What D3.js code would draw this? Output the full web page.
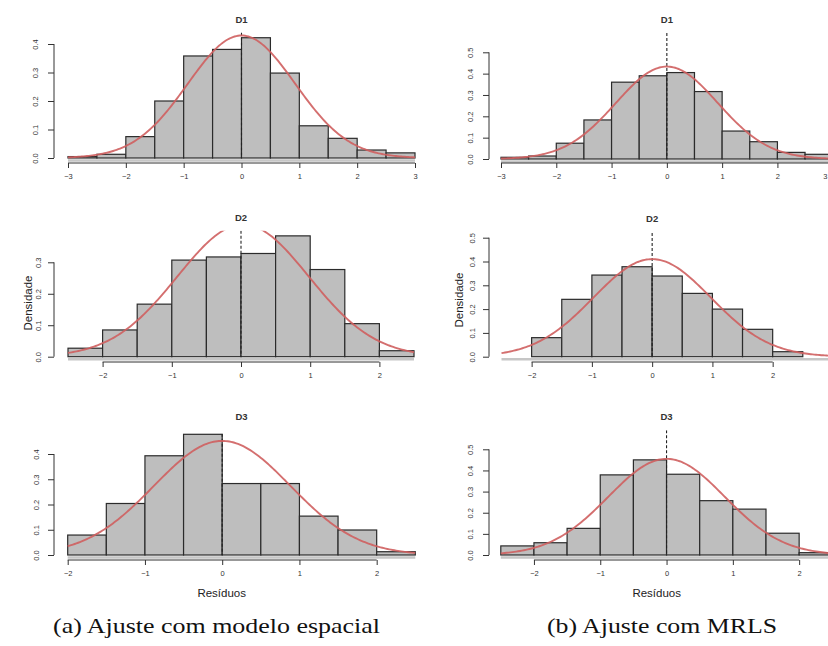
<!DOCTYPE html>
<html>
<head>
<meta charset="utf-8">
<script src="https://cdn.jsdelivr.net/npm/d3@7"></script>
<style>
  html, body { margin: 0; padding: 0; background: #ffffff; }
  svg { display: block; }
</style>
</head>
<body>
<svg id="chart" width="828" height="646"></svg>
<script>
// ---------------- DATA ----------------
// Histogram bin edges (breaks) and densities
const breaksA1 = [-3, -2.5, -2, -1.5, -1, -0.5, 0, 0.5, 1, 1.5, 2, 2.5, 3];
const densA1   = [0.005, 0.013, 0.075, 0.200, 0.358, 0.381, 0.422, 0.298, 0.113, 0.069, 0.028, 0.018];

const breaksB1 = [-3, -2.5, -2, -1.5, -1, -0.5, 0, 0.5, 1, 1.5, 2, 2.5, 3];
const densB1   = [0.008, 0.014, 0.074, 0.183, 0.360, 0.390, 0.405, 0.316, 0.131, 0.081, 0.031, 0.022];

const breaksA2 = [-2.5, -2, -1.5, -1, -0.5, 0, 0.5, 1, 1.5, 2, 2.5];
const densA2   = [0.027, 0.085, 0.167, 0.307, 0.317, 0.328, 0.384, 0.277, 0.105, 0.019];

const breaksB2 = [-2.5, -2, -1.5, -1, -0.5, 0, 0.5, 1, 1.5, 2, 2.5, 3];
const densB2   = [0.0, 0.080, 0.241, 0.343, 0.378, 0.339, 0.266, 0.200, 0.115, 0.021, 0.0];

const breaksA3 = [-2, -1.5, -1, -0.5, 0, 0.5, 1, 1.5, 2, 2.5];
const densA3   = [0.079, 0.204, 0.393, 0.478, 0.283, 0.283, 0.154, 0.099, 0.013];

const breaksB3 = [-2.5, -2, -1.5, -1, -0.5, 0, 0.5, 1, 1.5, 2, 2.5];
const densB3   = [0.043, 0.058, 0.126, 0.379, 0.450, 0.382, 0.257, 0.217, 0.103, 0.011];

// Fitted normal curves: [mean, sd]
const fitA1 = [0.00, 0.928];
const fitB1 = [0.00, 0.921];
const fitA2 = [0.03, 0.950];
const fitB2 = [0.00, 0.973];
const fitA3 = [0.00, 0.883];
const fitB3 = [0.00, 0.877];

// Tick values
const yTicks04 = [0, 0.1, 0.2, 0.3, 0.4];
const yTicks03 = [0, 0.1, 0.2, 0.3];
const yTicks05 = [0, 0.1, 0.2, 0.3, 0.4, 0.5];
const xTicks3  = [-3, -2, -1, 0, 1, 2, 3];
const xTicks2  = [-2, -1, 0, 1, 2];

const titles   = ["D1", "D2", "D3"];
const yLabel   = "Densidade";
const xLabel   = "Resíduos";
const captions = ["(a) Ajuste com modelo espacial", "(b) Ajuste com MRLS"];

// ---------------- LAYOUT ----------------
const panels = [
  { title: titles[0], breaks: breaksA1, dens: densA1, fit: fitA1, yTicks: yTicks04, xTicks: xTicks3,
    xDom: [-3, 3], xPx: [68, 415], yDom: [0, 0.4], yPx: [158, 44], axisXPos: 163, axisYPos: 54,
    yTop: 0.44, curveDom: [-3, 3], titleY: 23, yLabX: 38 },
  { title: titles[0], breaks: breaksB1, dens: densB1, fit: fitB1, yTicks: yTicks05, xTicks: xTicks3,
    xDom: [-3, 3], xPx: [501, 832.7], yDom: [0, 0.5], yPx: [159, 52.3], axisXPos: 163, axisYPos: 489,
    yTop: 0.59, curveDom: [-3, 3.3], titleY: 23, yLabX: 473 },
  { title: titles[1], breaks: breaksA2, dens: densA2, fit: fitA2, yTicks: yTicks03, xTicks: xTicks2,
    xDom: [-2.5, 2.5], xPx: [68, 414], yDom: [0, 0.3], yPx: [356.7, 262.3], axisXPos: 362, axisYPos: 54,
    yTop: 0.40, curveDom: [-2.5, 2.5], titleY: 221, yLabX: 41 },
  { title: titles[1], breaks: breaksB2, dens: densB2, fit: fitB2, yTicks: yTicks05, xTicks: xTicks2,
    xDom: [-2.5, 2.5], xPx: [501.5, 802.8], yDom: [0, 0.5], yPx: [356.7, 237.7], axisXPos: 362, axisYPos: 489,
    yTop: 0.52, curveDom: [-2.5, 3.3], titleY: 222, yLabX: 475 },
  { title: titles[2], breaks: breaksA3, dens: densA3, fit: fitA3, yTicks: yTicks04, xTicks: xTicks2,
    xDom: [-2, 2.5], xPx: [67.7, 415.3], yDom: [0, 0.4], yPx: [555, 454], axisXPos: 560, axisYPos: 54,
    yTop: 0.48, curveDom: [-2, 2.5], titleY: 420, yLabX: 39 },
  { title: titles[2], breaks: breaksB3, dens: densB3, fit: fitB3, yTicks: yTicks05, xTicks: xTicks2,
    xDom: [-2.5, 2.5], xPx: [500.8, 832.3], yDom: [0, 0.5], yPx: [555, 449.3], axisXPos: 560, axisYPos: 489,
    yTop: 0.59, curveDom: [-2.5, 3.3], titleY: 420, yLabX: 473 }
];

const BAR_FILL = "#bebebe";
const BAR_STROKE = "#2b2b2b";
const CURVE = "#cf5f5f";
const AXIS = "#333333";
const W = 828;

const svg = d3.select("#chart");
svg.append("rect").attr("width", 828).attr("height", 646).attr("fill", "#ffffff");

const defs = svg.append("defs");
const dnorm = (x, m, s) => Math.exp(-0.5 * ((x - m) / s) ** 2) / (s * Math.sqrt(2 * Math.PI));

panels.forEach((p, i) => {
  const x = d3.scaleLinear().domain(p.xDom).range(p.xPx);
  const y = d3.scaleLinear().domain(p.yDom).range(p.yPx);
  const g = svg.append("g");

  // plot region clip (top at the region's upper limit)
  const span = p.xDom[1] - p.xDom[0];
  const cx0 = x(p.xDom[0] - 0.04 * span), cx1 = x(p.xDom[1] + 0.04 * span) + 40;
  const cy0 = y(p.yTop), cy1 = y(0) + 4;
  defs.append("clipPath").attr("id", "clip" + i)
    .append("rect").attr("x", cx0).attr("y", cy0).attr("width", cx1 - cx0).attr("height", cy1 - cy0);

  // faint band under the bars
  g.append("line")
    .attr("x1", x(p.breaks[0])).attr("x2", x(p.breaks[p.breaks.length - 1]))
    .attr("y1", y(0) + 2.5).attr("y2", y(0) + 2.5)
    .attr("stroke", "#c6c6c6").attr("stroke-width", 2.5);

  // bars
  const bins = p.dens.map((d, k) => ({ x0: p.breaks[k], x1: p.breaks[k + 1], d }));
  g.append("g").selectAll("rect").data(bins).join("rect")
    .attr("x", b => x(b.x0))
    .attr("y", b => y(b.d))
    .attr("width", b => x(b.x1) - x(b.x0))
    .attr("height", b => y(0) - y(b.d))
    .attr("fill", BAR_FILL)
    .attr("stroke", BAR_STROKE)
    .attr("stroke-width", 1.2);

  const clipped = g.append("g").attr("clip-path", `url(#clip${i})`);

  // vertical dashed reference line at 0
  clipped.append("line")
    .attr("x1", x(0)).attr("x2", x(0))
    .attr("y1", y(p.yTop)).attr("y2", y(0))
    .attr("stroke", "#222").attr("stroke-width", 1.1)
    .attr("stroke-dasharray", "3,2");

  // normal curve
  const xs = d3.range(0, 201).map(k => p.curveDom[0] + (p.curveDom[1] - p.curveDom[0]) * k / 200);
  const line = d3.line().x(v => x(v)).y(v => y(dnorm(v, p.fit[0], p.fit[1])));
  clipped.append("path").datum(xs)
    .attr("d", line)
    .attr("fill", "none")
    .attr("stroke", CURVE)
    .attr("stroke-width", 1.9)
    .attr("stroke-opacity", 0.9);

  // x axis
  const xa = g.append("g").attr("transform", `translate(0,${p.axisXPos})`)
    .call(d3.axisBottom(x).tickValues(p.xTicks).tickSize(5).tickSizeOuter(0).tickFormat(d3.format("d")));
  xa.select(".domain").attr("stroke", AXIS)
    .attr("d", `M${x(p.xTicks[0])},0H${x(p.xTicks[p.xTicks.length - 1])}`);
  xa.selectAll(".tick line").attr("stroke", AXIS);
  xa.selectAll(".tick text").attr("y", 11).attr("font-size", 7.5)
    .attr("font-family", "Liberation Sans, Arial, sans-serif").attr("fill", "#333");
  // labels whose tick sits at/after the right edge: keep inside the picture
  xa.selectAll(".tick text").filter(d => x(d) > W - 4)
    .attr("text-anchor", "end").attr("x", d => (W - 1) - x(d));

  // y axis
  const ya = g.append("g").attr("transform", `translate(${p.axisYPos},0)`)
    .call(d3.axisLeft(y).tickValues(p.yTicks).tickSize(6).tickSizeOuter(0).tickFormat(d3.format(".1f")));
  ya.select(".domain").attr("stroke", AXIS)
    .attr("d", `M0,${y(p.yTicks[0])}V${y(p.yTicks[p.yTicks.length - 1])}`);
  ya.selectAll(".tick line").attr("stroke", AXIS);
  ya.selectAll(".tick text")
    .attr("x", null).attr("dy", null)
    .attr("text-anchor", "middle")
    .attr("transform", `translate(${p.yLabX - p.axisYPos},0) rotate(-90)`)
    .attr("y", 0)
    .attr("font-size", 7.5)
    .attr("font-family", "Liberation Sans, Arial, sans-serif").attr("fill", "#333");

  // panel title
  g.append("text")
    .attr("x", x((p.xDom[0] + p.xDom[1]) / 2)).attr("y", p.titleY)
    .attr("text-anchor", "middle")
    .attr("font-family", "Liberation Sans, Arial, sans-serif")
    .attr("font-size", 9.5).attr("font-weight", "bold").attr("fill", "#333")
    .text(p.title);
});

// y labels (middle row)
[[29, 303], [460, 300]].forEach(([lx, ly]) => {
  svg.append("text")
    .attr("transform", `translate(${lx},${ly}) rotate(-90)`)
    .attr("text-anchor", "middle").attr("dominant-baseline", "middle")
    .attr("font-family", "Liberation Sans, Arial, sans-serif")
    .attr("font-size", 11.5).attr("fill", "#222")
    .text(yLabel);
});

// x labels (bottom row)
[221.7, 656.7].forEach(lx => {
  svg.append("text")
    .attr("x", lx).attr("y", 597)
    .attr("text-anchor", "middle")
    .attr("font-family", "Liberation Sans, Arial, sans-serif")
    .attr("font-size", 11.5).attr("fill", "#222")
    .text(xLabel);
});

// captions
[[53, 327], [547, 230]].forEach(([cx, w], k) => {
  svg.append("text")
    .attr("x", cx).attr("y", 633)
    .attr("font-family", "Liberation Serif, 'DejaVu Serif', serif")
    .attr("font-size", 21).attr("fill", "#111")
    .attr("textLength", w).attr("lengthAdjust", "spacingAndGlyphs")
    .text(captions[k]);
});
</script>
</body>
</html>
